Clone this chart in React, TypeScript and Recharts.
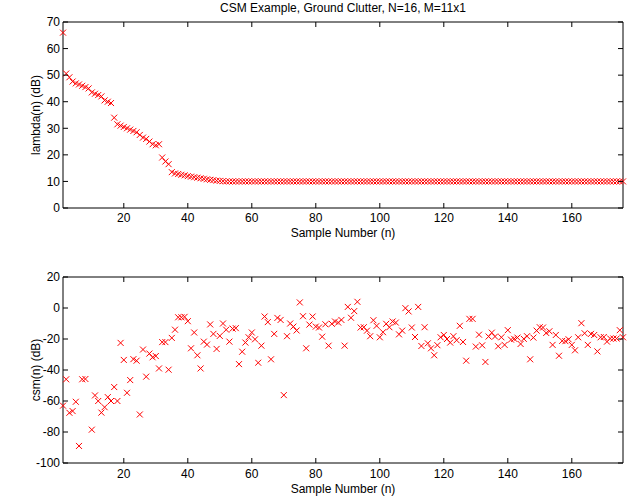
import React from 'react';
import { ScatterChart, Scatter, XAxis, YAxis } from 'recharts';

// ---- data ----
const titleText = 'CSM Example, Ground Clutter, N=16, M=11x1';
const xLabelText = 'Sample Number (n)';
const topYLabel = 'lambda(n) (dB)';
const bottomYLabel = 'csm(n) (dB)';

const xTicks = [20, 40, 60, 80, 100, 120, 140, 160];
const topYTicks = [0, 10, 20, 30, 40, 50, 60, 70];
const bottomYTicks = [-100, -80, -60, -40, -20, 0, 20];

const lambdaDb: number[] = [
  66, 50.6, 49.2, 47.6, 46.9, 46.5, 46, 45.5, 45, 43.5,
  43, 42.5, 42, 40.5, 40, 39.5, 34, 31.5, 31, 30.5,
  30, 29.5, 29, 28.5, 27.5, 26.5, 26, 25, 24, 23.6,
  24, 19, 17.5, 16.5, 13.5, 13, 12.8, 12.5, 12.3, 12,
  11.8, 11.6, 11.4, 11.2, 11, 10.8, 10.6, 10.5, 10.3, 10.2,
  10.1, 10, 10, 10, 10, 10, 10, 10, 10, 10,
  10, 10, 10, 10, 10, 10, 10, 10, 10, 10,
  10, 10, 10, 10, 10, 10, 10, 10, 10, 10,
  10, 10, 10, 10, 10, 10, 10, 10, 10, 10,
  10, 10, 10, 10, 10, 10, 10, 10, 10, 10,
  10, 10, 10, 10, 10, 10, 10, 10, 10, 10,
  10, 10, 10, 10, 10, 10, 10, 10, 10, 10,
  10, 10, 10, 10, 10, 10, 10, 10, 10, 10,
  10, 10, 10, 10, 10, 10, 10, 10, 10, 10,
  10, 10, 10, 10, 10, 10, 10, 10, 10, 10,
  10, 10, 10, 10, 10, 10, 10, 10, 10, 10,
  10, 10, 10, 10, 10, 10, 10, 10, 10, 10,
  10, 10, 10, 10, 10, 10,
];

const csmDb: (number | null)[] = [
  -63, -46, -67.6, -66.5, -60.5, -89, -46, -45.8, null, -78.5,
  -56.4, -60, -67.5, -64, -57.5, -60, -51, -60, -22.5, -33.5,
  -54.7, -46.5, -33, -34, -68.7, -26.8, -44.3, -29.4, -31.8, -31,
  -39, -22, -22, -39.8, -19.3, -14, -6, -6, -5.7, -8.5,
  -26, -15.8, -30.5, -39, -21.7, -23.6, -10.6, -16.7, -26.4, -18,
  -10, -14, -21.7, -13.3, -13, -36.2, -28.2, -22.3, -18.9, -15.8,
  -20.2, -35.3, -24.3, -5.5, -9.1, -33.1, -16.7, -6.4, -7.7, -56.2,
  -18.2, -10, -12, -14.5, 3.6, -5.3, -26, -10.7, -5.5, -12,
  -12.6, -18.5, -10.5, -24.3, -10.2, -8.7, -9.4, -7.7, -24.3, 0.7,
  -6.3, -2, 4, -12.6, -12.4, -14.6, -18.2, -7.9, -11.5, -18.9,
  -15.6, -10.2, -12.4, -8.7, -9.4, -17, -14.6, -0.1, -2.2, -12.6,
  -18.7, 0.7, -24.5, -12.4, -22.8, -26, -30.5, -24, -18.9, -17.4,
  -20, -22.3, -18.2, -20.8, -11.5, -21.9, -34, -7, -7, -24.9,
  -17.2, -24.1, -34.8, -18.4, -15.9, -18.4, -24.7, -18.9, -23.8, -14.3,
  -20.4, -19.9, -19.1, -23.2, -19.9, -18.2, -33.1, -19.1, -14.6, -12.4,
  -12.6, -16.1, -15, -23.8, -17.4, -30.8, -21.2, -21.4, -20.2, -23.8,
  -27.3, -18.9, -9.8, -16.3, -23.8, -16.7, -17.4, -28, -18.9, -18.7,
  -21.7, -19.7, -19.7, -19.7, -14.3, -18.9,
];

const topPoints = lambdaDb.map((v, i) => ({ n: i + 1, v }));
const bottomPoints = csmDb
  .map((v, i) => ({ n: i + 1, v }))
  .filter((p) => p.v !== null) as { n: number; v: number }[];

// ---- styling ----
const FONT = '"Liberation Sans", Arial, Helvetica, sans-serif';
const FS = 12;
const RED = '#ff0000';
const TICK = 5;

const Cross = (props: any) => {
  const { cx, cy } = props;
  if (cx == null || cy == null) return <g />;
  const r = 3;
  return (
    <g>
      <line x1={cx - r} y1={cy - r} x2={cx + r} y2={cy + r} stroke={RED} strokeWidth={1} />
      <line x1={cx - r} y1={cy + r} x2={cx + r} y2={cy - r} stroke={RED} strokeWidth={1} />
    </g>
  );
};

const Hidden = () => <g />;

const makeBottomTick = (labelDy: number) => (props: any) => {
  const { x, y, payload } = props;
  return (
    <g>
      <line x1={x} y1={y} x2={x} y2={y - TICK} stroke="#000" strokeWidth={1} />
      <text x={x} y={y + labelDy} textAnchor="middle" fill="#000" fontSize={FS} fontFamily={FONT}>
        {payload.value}
      </text>
    </g>
  );
};

const LeftTick = (props: any) => {
  const { x, y, payload } = props;
  return (
    <g>
      <line x1={x} y1={y} x2={x + TICK} y2={y} stroke="#000" strokeWidth={1} />
      <text x={x - 3} y={y + 4.3} textAnchor="end" fill="#000" fontSize={FS} fontFamily={FONT}>
        {payload.value}
      </text>
    </g>
  );
};

const TopTick = (props: any) => {
  const { x, y } = props;
  return <line x1={x} y1={y} x2={x} y2={y + TICK} stroke="#000" strokeWidth={1} />;
};

const RightTick = (props: any) => {
  const { x, y } = props;
  return <line x1={x} y1={y} x2={x - TICK} y2={y} stroke="#000" strokeWidth={1} />;
};

const lineStyle = { stroke: '#000', strokeWidth: 1 };

type PanelProps = {
  data: { n: number; v: number }[];
  yDomain: [number, number];
  yTicks: number[];
  yLabel: string;
  height: number;
  labelDy: number;
  xLabelOffset: number;
  margin: { top: number; right: number; bottom: number; left: number };
};

const Panel = ({ data, yDomain, yTicks, yLabel, height, labelDy, xLabelOffset, margin }: PanelProps) => (
  <ScatterChart width={633} height={height} margin={margin}>
    <XAxis
      xAxisId="b"
      dataKey="n"
      type="number"
      domain={[1, 176]}
      ticks={xTicks}
      interval={0}
      height={30}
      tickSize={0}
      tickMargin={0}
      tick={makeBottomTick(labelDy)}
      axisLine={lineStyle}
      tickLine={false}
      label={{ value: xLabelText, position: 'insideBottom', offset: xLabelOffset, fill: '#000', fontSize: FS, fontFamily: FONT }}
    />
    <XAxis
      xAxisId="t"
      orientation="top"
      dataKey="n"
      type="number"
      domain={[1, 176]}
      ticks={xTicks}
      interval={0}
      height={1}
      tickSize={0}
      tickMargin={0}
      tick={TopTick}
      axisLine={lineStyle}
      tickLine={false}
    />
    <YAxis
      yAxisId="l"
      dataKey="v"
      type="number"
      domain={yDomain}
      ticks={yTicks}
      interval={0}
      width={63}
      tickSize={0}
      tickMargin={0}
      tick={LeftTick}
      axisLine={lineStyle}
      tickLine={false}
      label={{
        value: yLabel,
        angle: -90,
        position: 'insideLeft',
        offset: 36,
        fill: '#000',
        fontSize: FS,
        fontFamily: FONT,
        style: { textAnchor: 'middle' },
      }}
    />
    <YAxis
      yAxisId="r"
      orientation="right"
      dataKey="v"
      type="number"
      domain={yDomain}
      ticks={yTicks}
      interval={0}
      width={1}
      tickSize={0}
      tickMargin={0}
      tick={RightTick}
      axisLine={lineStyle}
      tickLine={false}
    />
    <Scatter xAxisId="t" yAxisId="r" data={data} dataKey="v" shape={Hidden} isAnimationActive={false} />
    <Scatter xAxisId="b" yAxisId="l" data={data} dataKey="v" shape={Cross} isAnimationActive={false} />
  </ScatterChart>
);

export default function App() {
  return (
    <div style={{ position: 'absolute', left: 0, top: 0, width: 633, height: 502, background: '#fff', fontFamily: FONT }}>
      <div
        style={{
          position: 'absolute',
          left: 63,
          top: 2,
          width: 560,
          textAlign: 'center',
          fontSize: FS,
          lineHeight: '12px',
          color: '#000',
          whiteSpace: 'nowrap',
        }}
      >
        {titleText}
      </div>
      <div style={{ position: 'absolute', left: 0, top: 0 }}>
        <Panel
          data={topPoints}
          yDomain={[0, 70]}
          yTicks={topYTicks}
          yLabel={topYLabel}
          height={250}
          labelDy={14}
          xLabelOffset={1}
          margin={{ top: 21, right: 9, bottom: 12, left: 0 }}
        />
      </div>
      <div style={{ position: 'absolute', left: 0, top: 250 }}>
        <Panel
          data={bottomPoints}
          yDomain={[-100, 20]}
          yTicks={bottomYTicks}
          yLabel={bottomYLabel}
          height={252}
          labelDy={15}
          xLabelOffset={0}
          margin={{ top: 26, right: 9, bottom: 9, left: 0 }}
        />
      </div>
    </div>
  );
}
